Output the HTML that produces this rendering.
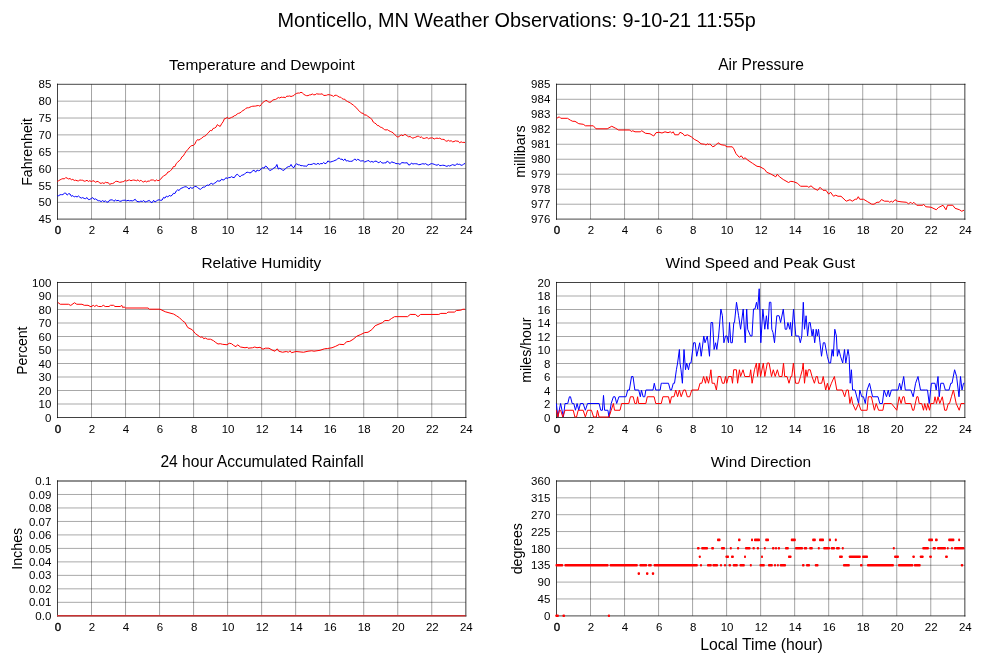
<!DOCTYPE html>
<html><head><meta charset="utf-8"><title>Monticello, MN Weather Observations</title>
<style>
html,body{margin:0;padding:0;background:#fff;}
svg{display:block;}
text{font-family:'Liberation Sans', Arial, Helvetica, sans-serif;fill:#000;}
.tk{font-size:11.5px;}
.st{font-size:15.7px;}
.yl{font-size:14.3px;}
.tt{font-size:20px;}
</style></head><body>
<svg width="1000" height="660" viewBox="0 0 1000 660">
<rect width="1000" height="660" fill="#fff"/>
<text x="277.5" y="26.8" style="font-size:19.875px">Monticello, MN Weather Observations: 9-10-21 11:55p</text>
<path d="M91.53 84.3V219.2M125.55 84.3V219.2M159.57 84.3V219.2M193.60 84.3V219.2M227.62 84.3V219.2M261.65 84.3V219.2M295.67 84.3V219.2M329.70 84.3V219.2M363.73 84.3V219.2M397.75 84.3V219.2M431.78 84.3V219.2" stroke="#000" stroke-opacity="0.36" stroke-width="1" fill="none"/>
<path d="M57.5 202.34H465.8M57.5 185.47H465.8M57.5 168.61H465.8M57.5 151.75H465.8M57.5 134.89H465.8M57.5 118.03H465.8M57.5 101.16H465.8" stroke="#000" stroke-opacity="0.34" stroke-width="1" fill="none"/>
<path d="M57.5 83.7V219.79999999999998" stroke="#000" stroke-opacity="0.74" stroke-width="1" fill="none"/>
<path d="M57.0 84.3H466.40000000000003" stroke="#000" stroke-opacity="0.58" stroke-width="1.3" fill="none"/>
<path d="M57.0 219.2H466.40000000000003" stroke="#000" stroke-opacity="0.58" stroke-width="1.3" fill="none"/>
<path d="M465.8 83.7V219.79999999999998" stroke="#000" stroke-opacity="0.58" stroke-width="1.3" fill="none"/>
<path d="M57.25 195.62 L58.67 195.74 L60.08 194.71 L61.50 194.66 L62.92 194.60 L64.34 193.26 L65.75 193.13 L67.17 195.11 L68.59 193.72 L70.00 193.94 L71.42 196.30 L72.84 195.56 L74.25 196.97 L75.67 196.36 L77.09 196.95 L78.51 195.97 L79.92 197.33 L81.34 198.09 L82.76 197.55 L84.17 198.44 L85.59 198.64 L87.01 197.56 L88.42 199.59 L89.84 199.41 L91.26 198.48 L92.68 197.60 L94.09 199.40 L95.51 198.89 L96.93 199.90 L98.34 200.71 L99.76 200.74 L101.18 201.66 L102.59 200.56 L104.01 201.62 L105.43 200.85 L106.85 202.12 L108.26 202.06 L109.68 200.10 L111.10 199.91 L112.51 199.82 L113.93 201.33 L115.35 199.93 L116.76 200.74 L118.18 200.32 L119.60 201.17 L121.02 201.22 L122.43 200.43 L123.85 200.28 L125.27 200.16 L126.68 200.88 L128.10 200.30 L129.52 200.85 L130.93 200.62 L132.35 200.90 L133.77 200.25 L135.19 199.27 L136.60 201.20 L138.02 201.69 L139.44 201.76 L140.85 201.07 L142.27 201.54 L143.69 200.45 L145.10 202.05 L146.52 201.55 L147.94 200.98 L149.36 200.41 L150.77 202.26 L152.19 202.54 L153.61 200.33 L155.02 201.99 L156.44 201.00 L157.86 200.02 L159.27 199.80 L160.69 200.37 L162.11 200.05 L163.53 197.45 L164.94 198.14 L166.36 196.10 L167.78 197.03 L169.19 195.42 L170.61 196.04 L172.03 195.36 L173.44 193.30 L174.86 193.56 L176.28 190.99 L177.70 189.81 L179.11 190.49 L180.53 188.56 L181.95 188.02 L183.36 187.39 L184.78 186.79 L186.20 186.76 L187.61 187.55 L189.03 189.12 L190.45 187.22 L191.87 188.29 L193.28 187.90 L194.70 186.42 L196.12 186.47 L197.53 187.47 L198.95 188.62 L200.37 189.35 L201.78 188.19 L203.20 187.06 L204.62 187.21 L206.04 185.74 L207.45 185.12 L208.87 185.38 L210.29 183.77 L211.70 183.41 L213.12 184.53 L214.54 182.93 L215.95 182.49 L217.37 180.69 L218.79 181.14 L220.21 181.02 L221.62 179.15 L223.04 180.06 L224.46 179.58 L225.87 177.68 L227.29 178.51 L228.71 177.59 L230.12 177.57 L231.54 176.65 L232.96 177.50 L234.38 177.57 L235.79 175.26 L237.21 174.29 L238.63 175.49 L240.04 176.88 L241.46 175.37 L242.88 174.97 L244.29 174.41 L245.71 172.87 L247.13 172.21 L248.55 172.44 L249.96 172.93 L251.38 172.38 L252.80 170.53 L254.21 170.26 L255.63 172.16 L257.05 170.09 L258.46 170.68 L259.88 170.37 L261.30 168.65 L262.72 167.66 L264.13 168.20 L265.55 165.99 L266.97 166.97 L268.38 168.88 L269.80 170.58 L271.22 169.85 L272.63 169.10 L274.05 167.84 L275.47 167.24 L276.88 164.50 L278.30 169.04 L279.72 168.24 L281.14 168.97 L282.55 170.06 L283.97 170.31 L285.39 168.67 L286.80 167.52 L288.22 166.67 L289.64 166.68 L291.05 164.45 L292.47 166.96 L293.89 167.70 L295.31 164.83 L296.72 163.75 L298.14 164.82 L299.56 164.88 L300.97 165.73 L302.39 165.58 L303.81 166.04 L305.22 166.04 L306.64 166.33 L308.06 164.41 L309.48 164.45 L310.89 164.49 L312.31 164.16 L313.73 163.45 L315.14 164.07 L316.56 164.32 L317.98 163.31 L319.39 164.35 L320.81 163.51 L322.23 163.77 L323.65 162.44 L325.06 163.68 L326.48 163.14 L327.90 160.90 L329.31 161.85 L330.73 161.98 L332.15 161.48 L333.56 161.05 L334.98 160.41 L336.40 159.82 L337.82 158.64 L339.23 157.90 L340.65 159.45 L342.07 159.04 L343.48 160.60 L344.90 158.90 L346.32 161.06 L347.73 160.67 L349.15 161.32 L350.57 161.34 L351.99 161.22 L353.40 160.33 L354.82 158.86 L356.24 160.49 L357.65 159.34 L359.07 159.89 L360.49 161.00 L361.90 160.91 L363.32 160.75 L364.74 162.07 L366.16 161.36 L367.57 160.78 L368.99 160.63 L370.41 162.16 L371.82 161.36 L373.24 162.23 L374.66 161.33 L376.07 161.10 L377.49 162.04 L378.91 162.85 L380.33 161.31 L381.74 162.80 L383.16 163.11 L384.58 162.83 L385.99 162.88 L387.41 160.92 L388.83 162.65 L390.24 163.45 L391.66 161.74 L393.08 162.52 L394.50 162.75 L395.91 163.61 L397.33 163.60 L398.75 163.73 L400.16 164.46 L401.58 162.60 L403.00 162.73 L404.41 162.90 L405.83 162.90 L407.25 162.76 L408.67 165.00 L410.08 164.78 L411.50 163.00 L412.92 164.07 L414.33 163.70 L415.75 163.76 L417.17 163.92 L418.58 164.68 L420.00 164.58 L421.42 164.08 L422.84 163.71 L424.25 164.09 L425.67 163.64 L427.09 164.72 L428.50 165.12 L429.92 164.31 L431.34 163.59 L432.75 163.83 L434.17 164.30 L435.59 164.85 L437.01 165.28 L438.42 164.42 L439.84 165.66 L441.26 165.47 L442.67 165.25 L444.09 165.34 L445.51 165.88 L446.92 166.40 L448.34 165.55 L449.76 166.04 L451.18 165.31 L452.59 164.63 L454.01 165.16 L455.43 165.38 L456.84 163.74 L458.26 164.44 L459.68 164.29 L461.09 165.23 L462.51 165.18 L463.93 163.64 L465.00 163.80" stroke="#0000ff" stroke-width="1.0" fill="none" stroke-linejoin="round"/><path d="M57.25 181.45 L58.67 180.69 L60.08 179.83 L61.50 179.12 L62.92 178.63 L64.34 178.93 L65.75 177.50 L67.17 178.19 L68.59 178.96 L70.00 178.49 L71.42 179.74 L72.84 179.33 L74.25 180.48 L75.67 180.20 L77.09 180.76 L78.51 180.89 L79.92 179.97 L81.34 180.23 L82.76 180.26 L84.17 181.21 L85.59 181.01 L87.01 180.26 L88.42 181.49 L89.84 180.65 L91.26 181.61 L92.68 180.94 L94.09 180.85 L95.51 182.35 L96.93 181.41 L98.34 181.53 L99.76 183.11 L101.18 183.31 L102.59 182.75 L104.01 183.53 L105.43 182.29 L106.85 182.69 L108.26 182.61 L109.68 184.47 L111.10 183.63 L112.51 183.56 L113.93 182.94 L115.35 181.49 L116.76 181.30 L118.18 181.67 L119.60 182.32 L121.02 182.11 L122.43 181.75 L123.85 181.49 L125.27 180.23 L126.68 181.07 L128.10 180.27 L129.52 179.98 L130.93 180.74 L132.35 180.25 L133.77 180.03 L135.19 180.34 L136.60 180.75 L138.02 179.76 L139.44 181.35 L140.85 180.11 L142.27 181.55 L143.69 181.99 L145.10 180.91 L146.52 181.93 L147.94 181.05 L149.36 181.17 L150.77 180.05 L152.19 179.98 L153.61 180.08 L155.02 181.21 L156.44 179.88 L157.86 180.66 L159.27 180.29 L160.69 179.23 L162.11 177.18 L163.53 176.08 L164.94 175.17 L166.36 174.39 L167.78 172.11 L169.19 171.76 L170.61 170.47 L172.03 169.20 L173.44 166.51 L174.86 166.60 L176.28 163.50 L177.70 162.13 L179.11 160.79 L180.53 159.51 L181.95 156.78 L183.36 155.89 L184.78 153.46 L186.20 151.27 L187.61 149.75 L189.03 148.02 L190.45 146.35 L191.87 145.54 L193.28 145.48 L194.70 144.35 L196.12 141.40 L197.53 139.60 L198.95 140.10 L200.37 139.02 L201.78 138.17 L203.20 136.77 L204.62 136.21 L206.04 135.37 L207.45 133.53 L208.87 132.24 L210.29 130.41 L211.70 130.74 L213.12 128.48 L214.54 128.13 L215.95 127.21 L217.37 124.60 L218.79 125.72 L220.21 126.41 L221.62 123.78 L223.04 121.90 L224.46 118.69 L225.87 118.46 L227.29 117.29 L228.71 118.60 L230.12 118.08 L231.54 117.38 L232.96 116.84 L234.38 115.71 L235.79 115.34 L237.21 113.94 L238.63 113.32 L240.04 112.89 L241.46 111.68 L242.88 110.56 L244.29 109.89 L245.71 108.46 L247.13 107.82 L248.55 107.78 L249.96 107.18 L251.38 106.53 L252.80 106.22 L254.21 106.18 L255.63 106.07 L257.05 105.70 L258.46 105.53 L259.88 106.17 L261.30 104.49 L262.72 102.52 L264.13 101.61 L265.55 100.63 L266.97 100.48 L268.38 102.05 L269.80 102.31 L271.22 101.79 L272.63 100.08 L274.05 99.70 L275.47 99.45 L276.88 98.61 L278.30 97.49 L279.72 98.06 L281.14 97.11 L282.55 97.41 L283.97 97.20 L285.39 97.66 L286.80 96.12 L288.22 96.27 L289.64 95.94 L291.05 96.51 L292.47 96.00 L293.89 95.53 L295.31 94.01 L296.72 93.35 L298.14 93.03 L299.56 93.09 L300.97 92.25 L302.39 92.95 L303.81 94.30 L305.22 95.20 L306.64 95.66 L308.06 95.63 L309.48 94.93 L310.89 94.80 L312.31 93.98 L313.73 94.81 L315.14 94.73 L316.56 93.75 L317.98 94.06 L319.39 94.10 L320.81 94.12 L322.23 93.82 L323.65 95.48 L325.06 95.42 L326.48 95.31 L327.90 94.67 L329.31 94.75 L330.73 95.11 L332.15 95.59 L333.56 96.44 L334.98 95.22 L336.40 95.31 L337.82 96.11 L339.23 97.14 L340.65 97.15 L342.07 98.59 L343.48 99.20 L344.90 99.26 L346.32 100.99 L347.73 101.65 L349.15 102.31 L350.57 103.15 L351.99 104.15 L353.40 105.18 L354.82 106.50 L356.24 107.55 L357.65 109.54 L359.07 110.70 L360.49 112.37 L361.90 113.16 L363.32 113.42 L364.74 115.30 L366.16 114.73 L367.57 116.29 L368.99 117.00 L370.41 118.13 L371.82 119.23 L373.24 122.05 L374.66 122.99 L376.07 123.84 L377.49 125.62 L378.91 125.64 L380.33 127.21 L381.74 127.51 L383.16 128.48 L384.58 129.67 L385.99 129.98 L387.41 129.69 L388.83 130.66 L390.24 131.38 L391.66 132.03 L393.08 132.75 L394.50 134.53 L395.91 135.47 L397.33 137.08 L398.75 136.67 L400.16 135.60 L401.58 134.96 L403.00 135.83 L404.41 134.40 L405.83 134.59 L407.25 136.03 L408.67 136.82 L410.08 136.48 L411.50 137.52 L412.92 138.20 L414.33 137.56 L415.75 137.17 L417.17 136.37 L418.58 136.11 L420.00 137.54 L421.42 136.92 L422.84 138.19 L424.25 138.45 L425.67 138.01 L427.09 137.54 L428.50 138.76 L429.92 138.05 L431.34 137.98 L432.75 137.92 L434.17 139.06 L435.59 138.36 L437.01 138.12 L438.42 138.50 L439.84 138.11 L441.26 139.27 L442.67 139.34 L444.09 139.46 L445.51 140.72 L446.92 141.30 L448.34 140.32 L449.76 141.15 L451.18 140.74 L452.59 141.80 L454.01 141.55 L455.43 140.84 L456.84 141.13 L458.26 141.21 L459.68 142.79 L461.09 141.81 L462.51 142.44 L463.93 142.36 L465.00 142.50" stroke="#ff0000" stroke-width="1.0" fill="none" stroke-linejoin="round"/>

<text x="51.30" y="223.30" text-anchor="end" class="tk">45</text>
<text x="51.30" y="206.44" text-anchor="end" class="tk">50</text>
<text x="51.30" y="189.57" text-anchor="end" class="tk">55</text>
<text x="51.30" y="172.71" text-anchor="end" class="tk">60</text>
<text x="51.30" y="155.85" text-anchor="end" class="tk">65</text>
<text x="51.30" y="138.99" text-anchor="end" class="tk">70</text>
<text x="51.30" y="122.12" text-anchor="end" class="tk">75</text>
<text x="51.30" y="105.26" text-anchor="end" class="tk">80</text>
<text x="51.30" y="88.40" text-anchor="end" class="tk">85</text>
<text x="58.00" y="234.00" text-anchor="middle" class="tk" stroke="#000" stroke-width="0.35">0</text>
<text x="92.03" y="234.00" text-anchor="middle" class="tk">2</text>
<text x="126.05" y="234.00" text-anchor="middle" class="tk">4</text>
<text x="160.07" y="234.00" text-anchor="middle" class="tk">6</text>
<text x="194.10" y="234.00" text-anchor="middle" class="tk">8</text>
<text x="228.12" y="234.00" text-anchor="middle" class="tk">10</text>
<text x="262.15" y="234.00" text-anchor="middle" class="tk">12</text>
<text x="296.17" y="234.00" text-anchor="middle" class="tk">14</text>
<text x="330.20" y="234.00" text-anchor="middle" class="tk">16</text>
<text x="364.23" y="234.00" text-anchor="middle" class="tk">18</text>
<text x="398.25" y="234.00" text-anchor="middle" class="tk">20</text>
<text x="432.28" y="234.00" text-anchor="middle" class="tk">22</text>
<text x="466.30" y="234.00" text-anchor="middle" class="tk">24</text>
<text x="169.10" y="70.00" style="font-size:15.475px">Temperature and Dewpoint</text>
<text transform="translate(31.7 185.80) rotate(-90)" style="font-size:14.171px">Fahrenheit</text>
<path d="M590.52 84.3V219.2M624.55 84.3V219.2M658.58 84.3V219.2M692.60 84.3V219.2M726.62 84.3V219.2M760.65 84.3V219.2M794.67 84.3V219.2M828.70 84.3V219.2M862.72 84.3V219.2M896.75 84.3V219.2M930.77 84.3V219.2" stroke="#000" stroke-opacity="0.36" stroke-width="1" fill="none"/>
<path d="M556.5 204.21H964.8M556.5 189.22H964.8M556.5 174.23H964.8M556.5 159.24H964.8M556.5 144.26H964.8M556.5 129.27H964.8M556.5 114.28H964.8M556.5 99.29H964.8" stroke="#000" stroke-opacity="0.34" stroke-width="1" fill="none"/>
<path d="M556.5 83.7V219.79999999999998" stroke="#000" stroke-opacity="0.74" stroke-width="1" fill="none"/>
<path d="M556.0 84.3H965.4" stroke="#000" stroke-opacity="0.58" stroke-width="1.3" fill="none"/>
<path d="M556.0 219.2H965.4" stroke="#000" stroke-opacity="0.58" stroke-width="1.3" fill="none"/>
<path d="M964.8 83.7V219.79999999999998" stroke="#000" stroke-opacity="0.58" stroke-width="1.3" fill="none"/>
<path d="M556.70 118.30 L559.25 116.80 L560.75 118.30 L567.50 118.30 L570.50 120.25 L572.75 121.30 L575.00 121.30 L578.75 123.70 L583.25 124.30 L585.50 125.80 L593.30 125.80 L596.00 128.80 L607.25 128.80 L611.75 126.25 L615.50 128.20 L618.50 130.00 L629.75 130.00 L631.25 131.50 L632.75 130.75 L635.00 131.80 L640.25 131.80 L641.75 130.75 L645.50 133.30 L650.00 133.75 L653.75 136.00 L656.00 132.70 L659.00 132.25 L662.00 133.00 L665.00 131.80 L668.00 132.70 L670.25 131.80 L671.75 133.00 L673.25 131.80 L674.75 134.80 L678.50 134.80 L680.00 132.25 L683.00 133.75 L684.50 135.70 L687.50 134.80 L691.25 136.75 L694.25 139.30 L698.00 141.25 L701.00 143.80 L704.50 144.25 L706.00 145.00 L707.50 143.80 L709.00 144.70 L709.75 143.80 L712.75 146.80 L715.00 145.75 L718.00 142.75 L721.00 144.70 L724.75 145.30 L727.00 146.80 L732.25 146.80 L733.75 148.75 L736.00 153.70 L739.30 157.30 L741.25 155.80 L743.50 158.80 L745.00 157.75 L748.00 160.30 L752.50 163.30 L757.00 166.30 L760.00 166.75 L764.50 169.30 L766.75 172.30 L770.50 173.80 L775.75 176.80 L777.25 174.25 L779.50 176.80 L783.25 179.50 L788.50 182.50 L790.75 181.30 L793.75 181.75 L797.50 183.25 L800.50 186.25 L807.25 186.25 L808.75 187.30 L811.00 185.80 L814.00 188.50 L817.75 190.30 L820.00 187.30 L823.00 190.30 L826.00 190.30 L828.70 194.20 L830.50 192.20 L833.50 196.25 L835.75 195.20 L838.00 196.25 L841.00 196.25 L846.25 201.20 L850.00 199.70 L852.25 201.20 L855.25 199.25 L856.75 199.25 L858.25 196.70 L859.75 199.25 L863.50 199.25 L867.25 201.50 L871.75 204.20 L874.00 204.20 L877.00 202.25 L879.25 202.25 L881.50 199.55 L884.50 201.20 L888.25 201.20 L889.75 202.25 L891.25 201.20 L892.75 202.25 L895.00 199.70 L897.25 201.20 L901.00 201.80 L906.25 202.25 L908.50 203.75 L910.75 202.25 L912.25 203.75 L913.75 202.25 L916.75 205.25 L922.75 205.25 L923.50 204.20 L925.75 206.75 L931.00 207.20 L936.25 209.75 L938.50 207.50 L943.00 205.25 L946.00 209.75 L947.50 205.25 L952.75 205.25 L955.00 208.25 L959.50 209.75 L961.75 211.25 L964.00 210.20" stroke="#ff0000" stroke-width="1.0" fill="none" stroke-linejoin="round"/>

<text x="550.30" y="223.30" text-anchor="end" class="tk">976</text>
<text x="550.30" y="208.31" text-anchor="end" class="tk">977</text>
<text x="550.30" y="193.32" text-anchor="end" class="tk">978</text>
<text x="550.30" y="178.33" text-anchor="end" class="tk">979</text>
<text x="550.30" y="163.34" text-anchor="end" class="tk">980</text>
<text x="550.30" y="148.36" text-anchor="end" class="tk">981</text>
<text x="550.30" y="133.37" text-anchor="end" class="tk">982</text>
<text x="550.30" y="118.38" text-anchor="end" class="tk">983</text>
<text x="550.30" y="103.39" text-anchor="end" class="tk">984</text>
<text x="550.30" y="88.40" text-anchor="end" class="tk">985</text>
<text x="557.00" y="234.00" text-anchor="middle" class="tk" stroke="#000" stroke-width="0.35">0</text>
<text x="591.02" y="234.00" text-anchor="middle" class="tk">2</text>
<text x="625.05" y="234.00" text-anchor="middle" class="tk">4</text>
<text x="659.08" y="234.00" text-anchor="middle" class="tk">6</text>
<text x="693.10" y="234.00" text-anchor="middle" class="tk">8</text>
<text x="727.12" y="234.00" text-anchor="middle" class="tk">10</text>
<text x="761.15" y="234.00" text-anchor="middle" class="tk">12</text>
<text x="795.17" y="234.00" text-anchor="middle" class="tk">14</text>
<text x="829.20" y="234.00" text-anchor="middle" class="tk">16</text>
<text x="863.22" y="234.00" text-anchor="middle" class="tk">18</text>
<text x="897.25" y="234.00" text-anchor="middle" class="tk">20</text>
<text x="931.27" y="234.00" text-anchor="middle" class="tk">22</text>
<text x="965.30" y="234.00" text-anchor="middle" class="tk">24</text>
<text x="718.20" y="70.00" style="font-size:15.574px">Air Pressure</text>
<text transform="translate(525 177.80) rotate(-90)" style="font-size:14.31px">millibars</text>
<path d="M91.53 282.5V417.5M125.55 282.5V417.5M159.57 282.5V417.5M193.60 282.5V417.5M227.62 282.5V417.5M261.65 282.5V417.5M295.67 282.5V417.5M329.70 282.5V417.5M363.73 282.5V417.5M397.75 282.5V417.5M431.78 282.5V417.5" stroke="#000" stroke-opacity="0.36" stroke-width="1" fill="none"/>
<path d="M57.5 404.00H465.8M57.5 390.50H465.8M57.5 377.00H465.8M57.5 363.50H465.8M57.5 350.00H465.8M57.5 336.50H465.8M57.5 323.00H465.8M57.5 309.50H465.8M57.5 296.00H465.8" stroke="#000" stroke-opacity="0.34" stroke-width="1" fill="none"/>
<path d="M57.5 281.9V418.1" stroke="#000" stroke-opacity="0.74" stroke-width="1" fill="none"/>
<path d="M57.0 282.5H466.40000000000003" stroke="#000" stroke-opacity="0.74" stroke-width="1" fill="none"/>
<path d="M57.0 417.5H466.40000000000003" stroke="#000" stroke-opacity="0.74" stroke-width="1" fill="none"/>
<path d="M465.8 281.9V418.1" stroke="#000" stroke-opacity="0.58" stroke-width="1.3" fill="none"/>
<path d="M57.70 302.30 L60.25 304.25 L68.50 304.25 L70.75 305.45 L73.00 303.80 L74.50 302.75 L76.75 304.25 L82.00 304.25 L84.25 305.30 L88.00 305.30 L91.00 306.80 L93.25 305.30 L94.75 306.50 L96.25 305.30 L98.50 306.50 L101.50 306.50 L103.30 305.30 L105.25 306.50 L109.00 306.50 L110.50 305.30 L113.50 305.30 L115.00 306.50 L120.25 306.50 L121.75 305.30 L122.80 307.70 L124.00 306.80 L125.50 308.00 L148.00 308.00 L149.50 309.20 L160.00 309.20 L165.25 311.75 L169.00 312.80 L173.50 314.00 L176.50 315.80 L179.50 317.75 L182.50 320.75 L184.75 322.25 L187.75 327.50 L192.25 329.75 L195.25 333.50 L200.50 337.25 L202.25 336.80 L203.75 338.75 L205.25 338.00 L207.50 339.20 L210.50 339.20 L213.50 340.70 L215.75 342.50 L218.00 344.00 L220.25 343.70 L222.50 344.30 L227.00 344.75 L229.25 343.25 L231.50 343.70 L233.75 345.50 L236.00 346.70 L237.50 344.75 L240.50 347.00 L245.00 347.75 L247.25 347.30 L248.00 348.20 L252.50 347.75 L254.75 347.00 L257.00 347.75 L260.00 347.30 L263.00 349.25 L265.25 348.20 L269.00 348.20 L272.00 350.00 L275.00 351.20 L277.25 348.80 L278.75 351.20 L282.50 352.25 L286.25 351.50 L288.50 352.25 L290.00 350.75 L291.50 352.70 L296.00 351.50 L299.00 351.80 L303.50 352.25 L308.00 351.20 L311.75 350.75 L314.00 351.20 L320.00 350.30 L324.50 348.80 L327.50 348.50 L332.00 347.75 L335.75 346.25 L339.50 344.30 L343.90 344.60 L346.50 341.75 L349.75 341.35 L353.00 339.40 L356.90 336.15 L360.80 334.50 L364.70 332.60 L368.00 332.25 L371.85 329.65 L375.10 325.75 L379.00 324.05 L382.25 322.75 L384.85 320.55 L388.75 320.55 L391.35 318.60 L394.60 316.65 L407.60 316.65 L410.20 314.45 L415.40 314.45 L418.00 316.65 L420.60 314.45 L438.80 314.45 L440.75 313.40 L446.60 313.40 L447.90 312.10 L454.40 312.10 L456.35 310.55 L460.90 310.15 L462.85 309.25 L465.00 309.25" stroke="#ff0000" stroke-width="1.0" fill="none" stroke-linejoin="round"/>

<text x="51.30" y="421.60" text-anchor="end" class="tk">0</text>
<text x="51.30" y="408.10" text-anchor="end" class="tk">10</text>
<text x="51.30" y="394.60" text-anchor="end" class="tk">20</text>
<text x="51.30" y="381.10" text-anchor="end" class="tk">30</text>
<text x="51.30" y="367.60" text-anchor="end" class="tk">40</text>
<text x="51.30" y="354.10" text-anchor="end" class="tk">50</text>
<text x="51.30" y="340.60" text-anchor="end" class="tk">60</text>
<text x="51.30" y="327.10" text-anchor="end" class="tk">70</text>
<text x="51.30" y="313.60" text-anchor="end" class="tk">80</text>
<text x="51.30" y="300.10" text-anchor="end" class="tk">90</text>
<text x="51.30" y="286.60" text-anchor="end" class="tk">100</text>
<text x="58.00" y="432.90" text-anchor="middle" class="tk" stroke="#000" stroke-width="0.35">0</text>
<text x="92.03" y="432.90" text-anchor="middle" class="tk">2</text>
<text x="126.05" y="432.90" text-anchor="middle" class="tk">4</text>
<text x="160.07" y="432.90" text-anchor="middle" class="tk">6</text>
<text x="194.10" y="432.90" text-anchor="middle" class="tk">8</text>
<text x="228.12" y="432.90" text-anchor="middle" class="tk">10</text>
<text x="262.15" y="432.90" text-anchor="middle" class="tk">12</text>
<text x="296.17" y="432.90" text-anchor="middle" class="tk">14</text>
<text x="330.20" y="432.90" text-anchor="middle" class="tk">16</text>
<text x="364.23" y="432.90" text-anchor="middle" class="tk">18</text>
<text x="398.25" y="432.90" text-anchor="middle" class="tk">20</text>
<text x="432.28" y="432.90" text-anchor="middle" class="tk">22</text>
<text x="466.30" y="432.90" text-anchor="middle" class="tk">24</text>
<text x="201.40" y="268.20" style="font-size:15.422px">Relative Humidity</text>
<text transform="translate(26.5 374.80) rotate(-90)" style="font-size:14.031px">Percent</text>
<path d="M590.52 282.5V417.5M624.55 282.5V417.5M658.58 282.5V417.5M692.60 282.5V417.5M726.62 282.5V417.5M760.65 282.5V417.5M794.67 282.5V417.5M828.70 282.5V417.5M862.72 282.5V417.5M896.75 282.5V417.5M930.77 282.5V417.5" stroke="#000" stroke-opacity="0.36" stroke-width="1" fill="none"/>
<path d="M556.5 404.00H964.8M556.5 390.50H964.8M556.5 377.00H964.8M556.5 363.50H964.8M556.5 350.00H964.8M556.5 336.50H964.8M556.5 323.00H964.8M556.5 309.50H964.8M556.5 296.00H964.8" stroke="#000" stroke-opacity="0.34" stroke-width="1" fill="none"/>
<path d="M556.5 281.9V418.1" stroke="#000" stroke-opacity="0.74" stroke-width="1" fill="none"/>
<path d="M556.0 282.5H965.4" stroke="#000" stroke-opacity="0.74" stroke-width="1" fill="none"/>
<path d="M556.0 417.5H965.4" stroke="#000" stroke-opacity="0.74" stroke-width="1" fill="none"/>
<path d="M964.8 281.9V418.1" stroke="#000" stroke-opacity="0.58" stroke-width="1.3" fill="none"/>
<path d="M556.40 403.50 L557.90 417.00 L560.60 403.50 L563.40 417.00 L565.00 403.50 L567.75 403.50 L569.40 396.75 L570.50 396.75 L572.15 403.50 L573.80 403.50 L575.45 410.25 L577.10 403.50 L578.75 410.25 L580.40 403.50 L583.15 403.50 L585.35 410.25 L587.55 403.50 L599.10 403.50 L600.75 410.25 L602.40 410.25 L603.50 395.40 L604.60 410.25 L607.90 410.25 L609.00 417.00 L611.20 403.50 L613.40 396.75 L615.00 396.75 L616.70 403.50 L618.90 396.75 L626.00 396.75 L627.70 390.00 L629.35 390.00 L631.55 376.50 L633.00 376.50 L634.85 390.00 L638.70 390.00 L640.35 396.75 L641.45 390.00 L643.10 396.75 L644.75 396.75 L645.85 390.00 L653.00 390.00 L654.30 383.25 L655.75 390.00 L660.15 390.00 L661.25 383.25 L662.40 383.25 L668.50 383.25 L670.30 390.00 L671.50 390.00 L673.30 383.25 L674.50 383.25 L676.40 369.75 L677.60 363.00 L679.40 349.50 L680.00 363.00 L681.00 369.75 L682.40 383.25 L684.00 349.50 L685.50 369.75 L686.70 363.00 L688.50 369.75 L689.70 363.00 L691.00 363.00 L693.60 342.75 L695.20 342.75 L696.70 356.25 L699.70 342.75 L701.20 356.25 L703.80 336.00 L705.00 342.75 L707.30 336.00 L709.50 356.25 L711.00 322.50 L712.60 322.50 L714.10 349.50 L715.60 342.75 L716.80 349.50 L718.60 336.00 L720.90 309.00 L722.40 315.75 L723.90 342.75 L725.50 336.00 L727.00 336.00 L728.50 342.75 L729.50 322.50 L730.80 342.75 L732.30 342.75 L733.80 322.50 L734.50 322.50 L736.50 302.25 L738.60 315.75 L740.60 329.25 L743.20 309.00 L745.20 342.75 L746.70 309.00 L747.70 329.25 L750.50 336.00 L752.00 336.00 L753.50 309.00 L755.00 309.00 L756.50 302.25 L757.70 309.00 L759.20 288.75 L760.80 342.75 L762.90 309.00 L764.80 329.25 L766.40 315.75 L767.90 329.25 L769.40 302.25 L770.90 302.25 L771.80 329.25 L773.00 332.62 L774.50 342.75 L776.80 315.75 L779.10 315.75 L780.60 322.50 L783.30 309.00 L785.20 329.25 L786.70 329.25 L787.90 322.50 L789.70 329.25 L790.50 322.50 L791.70 336.00 L793.50 309.00 L795.80 336.00 L798.80 336.00 L800.30 342.75 L801.80 336.00 L803.30 302.25 L804.50 329.25 L806.10 315.75 L807.60 336.00 L809.10 322.50 L810.20 322.50 L812.10 336.00 L813.20 329.25 L814.70 342.75 L816.20 329.25 L817.30 336.00 L818.50 329.25 L820.00 342.75 L821.50 356.25 L823.30 342.75 L824.80 342.75 L827.30 356.25 L829.10 363.00 L830.60 363.00 L832.10 349.50 L833.30 356.25 L834.80 329.25 L836.40 336.00 L837.40 356.25 L838.90 349.50 L840.50 356.25 L842.70 363.00 L844.50 349.50 L845.80 363.00 L848.00 349.50 L849.10 356.25 L850.20 383.25 L851.40 369.75 L852.60 390.00 L855.00 390.00 L858.60 403.50 L859.80 390.00 L861.70 396.75 L863.50 396.75 L865.30 403.50 L867.10 390.00 L869.50 383.25 L872.60 396.75 L878.00 396.75 L879.80 403.50 L882.30 403.50 L884.10 390.00 L886.50 396.75 L888.30 390.00 L889.50 396.75 L891.40 390.00 L898.00 390.00 L899.60 383.25 L901.10 390.00 L903.70 376.50 L905.30 390.00 L910.80 390.00 L913.20 396.75 L915.60 383.25 L918.00 376.50 L920.50 390.00 L925.30 390.00 L927.50 390.00 L929.20 403.50 L931.40 383.25 L935.00 383.25 L936.20 390.00 L938.00 376.50 L939.20 396.75 L940.80 383.25 L943.50 383.25 L945.30 390.00 L949.00 390.00 L950.80 383.25 L952.00 383.25 L954.60 369.75 L956.60 376.50 L959.00 396.75 L960.50 376.50 L962.00 390.00 L963.50 383.25 L964.50 383.25" stroke="#0000ff" stroke-width="1.0" fill="none" stroke-linejoin="round"/><path d="M556.40 410.25 L557.90 417.00 L559.30 410.25 L560.60 410.25 L562.80 417.00 L565.00 410.25 L573.25 410.25 L574.90 417.00 L576.50 417.00 L578.20 410.25 L583.15 410.25 L585.35 417.00 L587.55 410.25 L591.40 410.25 L593.60 417.00 L596.35 417.00 L597.45 410.25 L599.10 417.00 L609.00 417.00 L611.20 410.25 L613.40 403.50 L614.50 410.25 L620.00 410.25 L621.65 403.50 L628.80 403.50 L630.45 396.75 L633.20 396.75 L634.85 403.50 L636.50 403.50 L637.60 396.75 L638.70 403.50 L645.85 403.50 L647.30 396.75 L654.10 396.75 L655.75 403.50 L661.25 403.50 L662.90 396.75 L668.50 396.75 L670.00 403.50 L671.50 396.75 L674.00 396.75 L675.75 390.00 L677.60 396.75 L679.40 390.00 L681.20 396.75 L683.60 390.00 L685.40 390.00 L687.30 396.75 L689.70 396.75 L691.75 390.00 L698.20 390.00 L700.00 383.25 L701.80 383.25 L703.60 376.50 L705.50 383.25 L706.70 376.50 L708.50 383.25 L709.90 376.50 L710.90 369.75 L712.10 383.25 L714.50 383.25 L716.40 390.00 L718.20 376.50 L720.60 376.50 L722.40 383.25 L724.20 383.25 L725.50 376.50 L726.70 383.25 L728.50 376.50 L731.50 376.50 L732.50 383.25 L733.70 369.75 L736.40 369.75 L737.60 383.25 L739.40 369.75 L740.60 376.50 L743.00 369.75 L744.80 376.50 L749.70 376.50 L750.70 369.75 L752.10 383.25 L754.50 369.75 L756.40 363.00 L757.60 376.50 L759.20 363.00 L760.60 376.50 L763.30 363.00 L764.80 376.50 L767.30 363.00 L769.10 363.00 L771.50 376.50 L773.30 369.75 L775.20 376.50 L777.40 369.75 L779.20 376.50 L782.00 376.50 L783.50 363.00 L784.70 376.50 L787.00 376.50 L789.00 383.25 L790.80 376.50 L791.80 376.50 L793.40 363.00 L795.60 383.25 L798.60 383.25 L800.50 376.50 L802.30 369.75 L803.20 363.00 L804.50 383.25 L805.90 369.75 L807.10 376.50 L808.30 369.75 L810.20 369.75 L812.00 376.50 L814.40 383.25 L816.20 376.50 L817.40 376.50 L818.60 383.25 L821.70 383.25 L823.20 376.50 L825.70 390.00 L827.40 383.25 L828.90 390.00 L831.40 383.25 L834.40 376.50 L836.80 390.00 L842.30 390.00 L844.70 396.75 L846.50 390.00 L848.30 390.00 L849.90 403.50 L851.40 396.75 L852.60 403.50 L855.60 410.25 L858.60 403.50 L861.00 410.25 L867.10 410.25 L868.30 396.75 L871.40 396.75 L874.40 410.25 L876.20 403.50 L878.60 410.25 L882.90 410.25 L884.10 403.50 L891.40 403.50 L896.80 410.25 L899.20 396.75 L901.10 403.50 L902.90 396.75 L904.10 396.75 L905.30 403.50 L910.80 403.50 L912.60 410.25 L913.80 410.25 L916.80 396.75 L918.00 396.75 L919.20 403.50 L921.70 403.50 L923.50 410.25 L924.70 403.50 L926.50 410.25 L927.70 403.50 L929.50 410.25 L930.80 403.50 L933.80 403.50 L935.00 396.75 L936.50 403.50 L938.00 396.75 L939.80 403.50 L942.30 396.75 L944.70 410.25 L946.50 410.25 L948.30 403.50 L949.50 403.50 L951.40 396.75 L953.40 390.00 L956.20 403.50 L959.20 410.25 L961.00 403.50 L964.50 403.50" stroke="#ff0000" stroke-width="1.0" fill="none" stroke-linejoin="round"/>

<text x="550.30" y="421.60" text-anchor="end" class="tk">0</text>
<text x="550.30" y="408.10" text-anchor="end" class="tk">2</text>
<text x="550.30" y="394.60" text-anchor="end" class="tk">4</text>
<text x="550.30" y="381.10" text-anchor="end" class="tk">6</text>
<text x="550.30" y="367.60" text-anchor="end" class="tk">8</text>
<text x="550.30" y="354.10" text-anchor="end" class="tk">10</text>
<text x="550.30" y="340.60" text-anchor="end" class="tk">12</text>
<text x="550.30" y="327.10" text-anchor="end" class="tk">14</text>
<text x="550.30" y="313.60" text-anchor="end" class="tk">16</text>
<text x="550.30" y="300.10" text-anchor="end" class="tk">18</text>
<text x="550.30" y="286.60" text-anchor="end" class="tk">20</text>
<text x="557.00" y="432.90" text-anchor="middle" class="tk" stroke="#000" stroke-width="0.35">0</text>
<text x="591.02" y="432.90" text-anchor="middle" class="tk">2</text>
<text x="625.05" y="432.90" text-anchor="middle" class="tk">4</text>
<text x="659.08" y="432.90" text-anchor="middle" class="tk">6</text>
<text x="693.10" y="432.90" text-anchor="middle" class="tk">8</text>
<text x="727.12" y="432.90" text-anchor="middle" class="tk">10</text>
<text x="761.15" y="432.90" text-anchor="middle" class="tk">12</text>
<text x="795.17" y="432.90" text-anchor="middle" class="tk">14</text>
<text x="829.20" y="432.90" text-anchor="middle" class="tk">16</text>
<text x="863.22" y="432.90" text-anchor="middle" class="tk">18</text>
<text x="897.25" y="432.90" text-anchor="middle" class="tk">20</text>
<text x="931.27" y="432.90" text-anchor="middle" class="tk">22</text>
<text x="965.30" y="432.90" text-anchor="middle" class="tk">24</text>
<text x="665.60" y="268.20" style="font-size:15.354px">Wind Speed and Peak Gust</text>
<text transform="translate(530.8 382.80) rotate(-90)" style="font-size:14.156px">miles/hour</text>
<path d="M91.53 481.0V615.8M125.55 481.0V615.8M159.57 481.0V615.8M193.60 481.0V615.8M227.62 481.0V615.8M261.65 481.0V615.8M295.67 481.0V615.8M329.70 481.0V615.8M363.73 481.0V615.8M397.75 481.0V615.8M431.78 481.0V615.8" stroke="#000" stroke-opacity="0.36" stroke-width="1" fill="none"/>
<path d="M57.5 602.32H465.8M57.5 588.84H465.8M57.5 575.36H465.8M57.5 561.88H465.8M57.5 548.40H465.8M57.5 534.92H465.8M57.5 521.44H465.8M57.5 507.96H465.8M57.5 494.48H465.8" stroke="#000" stroke-opacity="0.34" stroke-width="1" fill="none"/>
<path d="M57.5 480.4V616.4" stroke="#000" stroke-opacity="0.74" stroke-width="1" fill="none"/>
<path d="M57.0 481.0H466.40000000000003" stroke="#000" stroke-opacity="0.58" stroke-width="1.3" fill="none"/>
<path d="M57.0 615.8H466.40000000000003" stroke="#000" stroke-opacity="0.58" stroke-width="1.3" fill="none"/>
<path d="M465.8 480.4V616.4" stroke="#000" stroke-opacity="0.58" stroke-width="1.3" fill="none"/>

<path d="M57 615.8H465.5" stroke="#c83232" stroke-width="1.4"/>
<text x="51.30" y="619.90" text-anchor="end" class="tk">0.0</text>
<text x="51.30" y="606.42" text-anchor="end" class="tk">0.01</text>
<text x="51.30" y="592.94" text-anchor="end" class="tk">0.02</text>
<text x="51.30" y="579.46" text-anchor="end" class="tk">0.03</text>
<text x="51.30" y="565.98" text-anchor="end" class="tk">0.04</text>
<text x="51.30" y="552.50" text-anchor="end" class="tk">0.05</text>
<text x="51.30" y="539.02" text-anchor="end" class="tk">0.06</text>
<text x="51.30" y="525.54" text-anchor="end" class="tk">0.07</text>
<text x="51.30" y="512.06" text-anchor="end" class="tk">0.08</text>
<text x="51.30" y="498.58" text-anchor="end" class="tk">0.09</text>
<text x="51.30" y="485.10" text-anchor="end" class="tk">0.1</text>
<text x="58.00" y="631.20" text-anchor="middle" class="tk" stroke="#000" stroke-width="0.35">0</text>
<text x="92.03" y="631.20" text-anchor="middle" class="tk">2</text>
<text x="126.05" y="631.20" text-anchor="middle" class="tk">4</text>
<text x="160.07" y="631.20" text-anchor="middle" class="tk">6</text>
<text x="194.10" y="631.20" text-anchor="middle" class="tk">8</text>
<text x="228.12" y="631.20" text-anchor="middle" class="tk">10</text>
<text x="262.15" y="631.20" text-anchor="middle" class="tk">12</text>
<text x="296.17" y="631.20" text-anchor="middle" class="tk">14</text>
<text x="330.20" y="631.20" text-anchor="middle" class="tk">16</text>
<text x="364.23" y="631.20" text-anchor="middle" class="tk">18</text>
<text x="398.25" y="631.20" text-anchor="middle" class="tk">20</text>
<text x="432.28" y="631.20" text-anchor="middle" class="tk">22</text>
<text x="466.30" y="631.20" text-anchor="middle" class="tk">24</text>
<text x="160.40" y="466.70" style="font-size:15.632px">24 hour Accumulated Rainfall</text>
<text transform="translate(22.4 569.80) rotate(-90)" style="font-size:14.282px">Inches</text>
<path d="M590.52 481.0V615.8M624.55 481.0V615.8M658.58 481.0V615.8M692.60 481.0V615.8M726.62 481.0V615.8M760.65 481.0V615.8M794.67 481.0V615.8M828.70 481.0V615.8M862.72 481.0V615.8M896.75 481.0V615.8M930.77 481.0V615.8" stroke="#000" stroke-opacity="0.36" stroke-width="1" fill="none"/>
<path d="M556.5 598.95H964.8M556.5 582.10H964.8M556.5 565.25H964.8M556.5 548.40H964.8M556.5 531.55H964.8M556.5 514.70H964.8M556.5 497.85H964.8" stroke="#000" stroke-opacity="0.34" stroke-width="1" fill="none"/>
<path d="M556.5 480.4V616.4" stroke="#000" stroke-opacity="0.74" stroke-width="1" fill="none"/>
<path d="M556.0 481.0H965.4" stroke="#000" stroke-opacity="0.58" stroke-width="1.3" fill="none"/>
<path d="M556.0 615.8H965.4" stroke="#000" stroke-opacity="0.58" stroke-width="1.3" fill="none"/>
<path d="M964.8 480.4V616.4" stroke="#000" stroke-opacity="0.58" stroke-width="1.3" fill="none"/>

<g fill="#ff0000"><rect x="717.0" y="538.6" width="3.5" height="2.6" rx="0.8"/><rect x="738.0" y="538.6" width="2.5" height="2.6" rx="0.8"/><rect x="751.0" y="538.6" width="2.0" height="2.6" rx="0.8"/><rect x="754.0" y="538.6" width="6.0" height="2.6" rx="0.8"/><rect x="765.2" y="538.6" width="3.8" height="2.6" rx="0.8"/><rect x="790.8" y="538.6" width="5.0" height="2.6" rx="0.8"/><rect x="812.2" y="538.6" width="3.6" height="2.6" rx="0.8"/><rect x="819.0" y="538.6" width="5.0" height="2.6" rx="0.8"/><rect x="828.8" y="538.6" width="2.2" height="2.6" rx="0.8"/><rect x="834.8" y="538.6" width="2.0" height="2.6" rx="0.8"/><rect x="928.2" y="538.6" width="4.8" height="2.6" rx="0.8"/><rect x="935.0" y="538.6" width="2.7" height="2.6" rx="0.8"/><rect x="948.2" y="538.6" width="6.2" height="2.6" rx="0.8"/><rect x="958.2" y="538.6" width="1.9" height="2.6" rx="0.8"/><rect x="697.0" y="547.0" width="2.6" height="2.6" rx="0.8"/><rect x="701.2" y="547.0" width="6.8" height="2.6" rx="0.8"/><rect x="711.2" y="547.0" width="2.8" height="2.6" rx="0.8"/><rect x="721.0" y="547.0" width="4.0" height="2.6" rx="0.8"/><rect x="729.8" y="547.0" width="2.0" height="2.6" rx="0.8"/><rect x="737.0" y="547.0" width="2.2" height="2.6" rx="0.8"/><rect x="745.0" y="547.0" width="5.5" height="2.6" rx="0.8"/><rect x="752.5" y="547.0" width="2.3" height="2.6" rx="0.8"/><rect x="756.8" y="547.0" width="2.2" height="2.6" rx="0.8"/><rect x="763.8" y="547.0" width="2.0" height="2.6" rx="0.8"/><rect x="772.0" y="547.0" width="2.5" height="2.6" rx="0.8"/><rect x="775.0" y="547.0" width="2.0" height="2.6" rx="0.8"/><rect x="777.8" y="547.0" width="2.2" height="2.6" rx="0.8"/><rect x="785.0" y="547.0" width="3.8" height="2.6" rx="0.8"/><rect x="795.0" y="547.0" width="8.0" height="2.6" rx="0.8"/><rect x="803.8" y="547.0" width="3.4" height="2.6" rx="0.8"/><rect x="809.2" y="547.0" width="3.6" height="2.6" rx="0.8"/><rect x="817.8" y="547.0" width="2.0" height="2.6" rx="0.8"/><rect x="823.2" y="547.0" width="6.8" height="2.6" rx="0.8"/><rect x="830.8" y="547.0" width="4.2" height="2.6" rx="0.8"/><rect x="836.0" y="547.0" width="3.8" height="2.6" rx="0.8"/><rect x="841.8" y="547.0" width="2.0" height="2.6" rx="0.8"/><rect x="892.8" y="547.0" width="2.0" height="2.6" rx="0.8"/><rect x="922.3" y="547.0" width="6.6" height="2.6" rx="0.8"/><rect x="932.6" y="547.0" width="3.3" height="2.6" rx="0.8"/><rect x="937.0" y="547.0" width="9.0" height="2.6" rx="0.8"/><rect x="946.9" y="547.0" width="1.8" height="2.6" rx="0.8"/><rect x="951.1" y="547.0" width="1.8" height="2.6" rx="0.8"/><rect x="954.0" y="547.0" width="10.5" height="2.6" rx="0.8"/><rect x="698.8" y="555.4" width="2.0" height="2.6" rx="0.8"/><rect x="725.5" y="555.4" width="3.5" height="2.6" rx="0.8"/><rect x="731.0" y="555.4" width="2.8" height="2.6" rx="0.8"/><rect x="744.0" y="555.4" width="2.0" height="2.6" rx="0.8"/><rect x="761.0" y="555.4" width="2.0" height="2.6" rx="0.8"/><rect x="788.0" y="555.4" width="3.5" height="2.6" rx="0.8"/><rect x="839.0" y="555.4" width="3.8" height="2.6" rx="0.8"/><rect x="848.8" y="555.4" width="12.0" height="2.6" rx="0.8"/><rect x="862.0" y="555.4" width="6.0" height="2.6" rx="0.8"/><rect x="894.1" y="555.4" width="4.8" height="2.6" rx="0.8"/><rect x="912.4" y="555.4" width="2.4" height="2.6" rx="0.8"/><rect x="919.8" y="555.4" width="3.8" height="2.6" rx="0.8"/><rect x="929.3" y="555.4" width="2.5" height="2.6" rx="0.8"/><rect x="945.1" y="555.4" width="2.7" height="2.6" rx="0.8"/><rect x="555.5" y="563.9" width="7.7" height="2.6" rx="0.8"/><rect x="564.4" y="563.9" width="44.2" height="2.6" rx="0.8"/><rect x="609.6" y="563.9" width="28.2" height="2.6" rx="0.8"/><rect x="639.4" y="563.9" width="7.8" height="2.6" rx="0.8"/><rect x="648.0" y="563.9" width="3.8" height="2.6" rx="0.8"/><rect x="653.6" y="563.9" width="44.2" height="2.6" rx="0.8"/><rect x="700.0" y="563.9" width="2.0" height="2.6" rx="0.8"/><rect x="707.0" y="563.9" width="4.8" height="2.6" rx="0.8"/><rect x="712.4" y="563.9" width="5.6" height="2.6" rx="0.8"/><rect x="720.0" y="563.9" width="2.0" height="2.6" rx="0.8"/><rect x="724.0" y="563.9" width="2.0" height="2.6" rx="0.8"/><rect x="728.5" y="563.9" width="2.5" height="2.6" rx="0.8"/><rect x="732.8" y="563.9" width="5.0" height="2.6" rx="0.8"/><rect x="739.5" y="563.9" width="5.3" height="2.6" rx="0.8"/><rect x="749.8" y="563.9" width="2.0" height="2.6" rx="0.8"/><rect x="759.5" y="563.9" width="5.3" height="2.6" rx="0.8"/><rect x="768.0" y="563.9" width="4.8" height="2.6" rx="0.8"/><rect x="774.0" y="563.9" width="2.0" height="2.6" rx="0.8"/><rect x="777.0" y="563.9" width="1.8" height="2.6" rx="0.8"/><rect x="779.8" y="563.9" width="6.2" height="2.6" rx="0.8"/><rect x="802.0" y="563.9" width="2.5" height="2.6" rx="0.8"/><rect x="806.0" y="563.9" width="4.0" height="2.6" rx="0.8"/><rect x="814.8" y="563.9" width="3.7" height="2.6" rx="0.8"/><rect x="843.0" y="563.9" width="6.8" height="2.6" rx="0.8"/><rect x="860.0" y="563.9" width="2.5" height="2.6" rx="0.8"/><rect x="867.0" y="563.9" width="26.9" height="2.6" rx="0.8"/><rect x="898.0" y="563.9" width="15.3" height="2.6" rx="0.8"/><rect x="913.9" y="563.9" width="6.8" height="2.6" rx="0.8"/><rect x="960.8" y="563.9" width="2.4" height="2.6" rx="0.8"/><rect x="637.6" y="572.3" width="2.4" height="2.6" rx="0.8"/><rect x="646.0" y="572.3" width="2.4" height="2.6" rx="0.8"/><rect x="651.8" y="572.3" width="2.4" height="2.6" rx="0.8"/><rect x="555.4" y="614.5" width="3.4" height="2.6" rx="0.8"/><rect x="562.5" y="614.5" width="2.5" height="2.6" rx="0.8"/><rect x="607.9" y="614.5" width="2.1" height="2.6" rx="0.8"/></g>
<text x="550.30" y="619.90" text-anchor="end" class="tk">0</text>
<text x="550.30" y="603.05" text-anchor="end" class="tk">45</text>
<text x="550.30" y="586.20" text-anchor="end" class="tk">90</text>
<text x="550.30" y="569.35" text-anchor="end" class="tk">135</text>
<text x="550.30" y="552.50" text-anchor="end" class="tk">180</text>
<text x="550.30" y="535.65" text-anchor="end" class="tk">225</text>
<text x="550.30" y="518.80" text-anchor="end" class="tk">270</text>
<text x="550.30" y="501.95" text-anchor="end" class="tk">315</text>
<text x="550.30" y="485.10" text-anchor="end" class="tk">360</text>
<text x="557.00" y="631.20" text-anchor="middle" class="tk" stroke="#000" stroke-width="0.35">0</text>
<text x="591.02" y="631.20" text-anchor="middle" class="tk">2</text>
<text x="625.05" y="631.20" text-anchor="middle" class="tk">4</text>
<text x="659.08" y="631.20" text-anchor="middle" class="tk">6</text>
<text x="693.10" y="631.20" text-anchor="middle" class="tk">8</text>
<text x="727.12" y="631.20" text-anchor="middle" class="tk">10</text>
<text x="761.15" y="631.20" text-anchor="middle" class="tk">12</text>
<text x="795.17" y="631.20" text-anchor="middle" class="tk">14</text>
<text x="829.20" y="631.20" text-anchor="middle" class="tk">16</text>
<text x="863.22" y="631.20" text-anchor="middle" class="tk">18</text>
<text x="897.25" y="631.20" text-anchor="middle" class="tk">20</text>
<text x="931.27" y="631.20" text-anchor="middle" class="tk">22</text>
<text x="965.30" y="631.20" text-anchor="middle" class="tk">24</text>
<text x="710.80" y="466.70" style="font-size:15.454px">Wind Direction</text>
<text transform="translate(522 574.30) rotate(-90)" style="font-size:14.174px">degrees</text>
<text x="700.20" y="650" style="font-size:15.787px">Local Time (hour)</text>
</svg>
</body></html>
